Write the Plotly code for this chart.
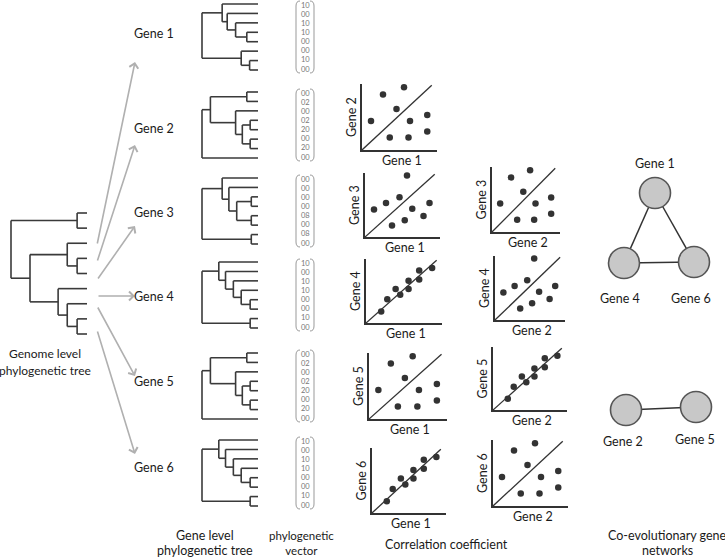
import plotly.graph_objects as go

# %%
genes = ['Gene 1', 'Gene 2', 'Gene 3', 'Gene 4', 'Gene 5', 'Gene 6']

# trees as nested lists: [node depth (0 = root, 1 = tips), child, child]; 0 = leaf
genome_tree = [0.0, [0.87, 0, 0],
               [0.25, [0.74, 0, [0.87, 0, 0]], [0.62, 0, [0.74, 0, [0.87, 0, 0]]]]]
tree_g1 = [0.0, [0.36, 0, [0.45, 0, [0.6, 0, [0.8, 0, 0]]]], [0.7, 0, [0.85, 0, 0]]]
tree_g2 = [0.0, [0.15, [0.8, 0, 0], [0.6, 0, [0.72, [0.86, 0, 0], [0.86, 0, 0]]]], 0]
tree_g3 = [0.0, [0.36, 0, [0.48, 0, [0.62, [0.88, 0, 0], [0.88, 0, 0]]]], [0.88, 0, 0]]
tree_g4 = [0.0, [0.3, 0, [0.42, 0, [0.56, 0, [0.7, 0, [0.86, 0, 0]]]]], [0.86, 0, 0]]
gene_trees = [tree_g1, tree_g2, tree_g3, tree_g4, tree_g2, tree_g4]

# phylogenetic vectors
vec_10 = ['10', '00', '10', '10', '00', '00', '10', '00']
vec_02 = ['00', '02', '00', '02', '20', '00', '20', '00']
vec_08 = ['00', '00', '00', '00', '08', '00', '08', '00']
gene_vectors = [vec_10, vec_02, vec_08, vec_10, vec_02, vec_10]

# scatter patterns (fraction of the small plot)
scatter_a_x = [0.12, 0.28, 0.56, 0.46, 0.64, 0.87, 0.37, 0.62, 0.87]
scatter_a_y = [0.44, 0.84, 0.95, 0.62, 0.44, 0.53, 0.19, 0.19, 0.28]
scatter_b_x = [0.12, 0.28, 0.46, 0.56, 0.63, 0.86, 0.36, 0.53, 0.78]
scatter_b_y = [0.43, 0.53, 0.62, 0.96, 0.44, 0.53, 0.18, 0.26, 0.33]
scatter_c_x = [0.20, 0.28, 0.39, 0.45, 0.56, 0.56, 0.70, 0.70, 0.87]
scatter_c_y = [0.18, 0.37, 0.53, 0.44, 0.66, 0.53, 0.82, 0.68, 0.86]
diag_x = [0, 0.93]
diag_y = [0, 0.98]
patterns = {'a': (scatter_a_x, scatter_a_y),
            'b': (scatter_b_x, scatter_b_y),
            'c': (scatter_c_x, scatter_c_y)}

# (x gene, y gene, pattern)
scatter_pairs = [
    ('Gene 1', 'Gene 2', 'a'), ('Gene 1', 'Gene 3', 'b'), ('Gene 1', 'Gene 4', 'c'),
    ('Gene 1', 'Gene 5', 'a'), ('Gene 1', 'Gene 6', 'c'),
    ('Gene 2', 'Gene 3', 'a'), ('Gene 2', 'Gene 4', 'b'), ('Gene 2', 'Gene 5', 'c'),
    ('Gene 2', 'Gene 6', 'a'),
]

network_edges = [('Gene 1', 'Gene 4'), ('Gene 1', 'Gene 6'), ('Gene 4', 'Gene 6'),
                 ('Gene 2', 'Gene 5')]

# %%
W, H = 725, 560
FONT = 'Lato, "Open Sans", sans-serif'
DARK = '#333333'
TXT = '#1a1a1a'

row_y = [37, 125, 211, 295, 386, 473]
label_y = [33, 128, 212, 296, 381, 467]
arrow_from = [(97, 245), (97, 262), (97, 280), (97, 296), (97, 306), (97, 330)]
arrow_to = [(135, 62), (135, 145), (135, 226), (135, 296), (135, 376), (135, 454)]

# pixel boxes of the small scatter plots: x0, x1, y_top, y_bottom
boxes = [(362, 437, 84, 150), (365, 440, 173, 237), (366, 442, 259, 323),
         (369, 447, 353, 419), (372, 446, 448, 513),
         (492, 560, 167, 232), (495, 565, 256, 320), (493, 567, 347, 410),
         (493, 568, 440, 506)]

node_pos = {'Gene 1': (655, 193), 'Gene 4': (624, 263), 'Gene 6': (694, 262),
            'Gene 2': (626, 410), 'Gene 5': (696, 407)}
node_label = {'Gene 1': (655, 163), 'Gene 4': (620, 298), 'Gene 6': (691, 298),
              'Gene 2': (623, 441), 'Gene 5': (695, 439)}


def n_leaves(node):
    if not isinstance(node, list):
        return 1
    return sum(n_leaves(c) for c in node[1:])


def tree_lines(node, x0, x1, leaf_ys, xs, ys, parent=None):
    if not isinstance(node, list):
        y = leaf_ys.pop(0)
        xs += [parent, x1, None]
        ys += [y, y, None]
        return y
    nx = x0 + node[0] * (x1 - x0)
    cys = [tree_lines(c, x0, x1, leaf_ys, xs, ys, nx) for c in node[1:]]
    xs += [nx, nx, None]
    ys += [min(cys), max(cys), None]
    y = (min(cys) + max(cys)) / 2
    if parent is not None:
        xs += [parent, nx, None]
        ys += [y, y, None]
    return y


def spaced(a, b, n):
    return [a + (b - a) * i / (n - 1) for i in range(n)]


fig = go.Figure()

# genome tree
tx, ty = [], []
tree_lines(genome_tree, 11, 87, spaced(213, 334, n_leaves(genome_tree)), tx, ty)
# gene trees
for tree, cy in zip(gene_trees, row_y):
    tree_lines(tree, 202, 258, spaced(cy - 33, cy + 33, n_leaves(tree)), tx, ty)
fig.add_trace(go.Scatter(x=tx, y=ty, mode='lines',
                         line=dict(color='#3a3a3a', width=1.6),
                         hoverinfo='skip', showlegend=False))

annotations = []
shapes = []


def text(x, y, s, size=12.5, color=TXT, ref=('x', 'y'), angle=0):
    annotations.append(dict(x=x, y=y, text=s, xref=ref[0], yref=ref[1],
                            showarrow=False, textangle=angle,
                            font=dict(family=FONT, size=size, color=color)))


# arrows and gene labels
for g, (sx, sy), (ex, ey), ly in zip(genes, arrow_from, arrow_to, label_y):
    annotations.append(dict(x=ex, y=ey, ax=sx, ay=sy, xref='x', yref='y',
                            axref='x', ayref='y', text='', showarrow=True,
                            arrowhead=4, arrowsize=1.1, arrowwidth=1.6,
                            arrowcolor='#b0b0b0'))
    text(154, ly, g)

# vectors
for vec, cy in zip(gene_vectors, row_y):
    ys = spaced(cy - 32, cy + 32, len(vec))
    for v, yy in zip(vec, ys):
        text(305, yy, v, size=7.5, color='#777')
    y0, y1 = cy - 36, cy + 36
    shapes.append(dict(type='path', xref='x', yref='y',
                       path=f'M 300,{y0} Q 296,{y0} 296,{y0 + 5} L 296,{y1 - 5} '
                            f'Q 296,{y1} 300,{y1}',
                       line=dict(color='#999', width=1)))
    shapes.append(dict(type='path', xref='x', yref='y',
                       path=f'M 310,{y0} Q 314,{y0} 314,{y0 + 5} L 314,{y1 - 5} '
                            f'Q 314,{y1} 310,{y1}',
                       line=dict(color='#999', width=1)))

# small scatter plots
layout_axes = {}
for i, ((gx, gy, p), (x0, x1, yt, yb)) in enumerate(zip(scatter_pairs, boxes)):
    k = i + 2
    px, py = patterns[p]
    fig.add_trace(go.Scatter(x=diag_x, y=diag_y, mode='lines', xaxis=f'x{k}',
                             yaxis=f'y{k}', line=dict(color=DARK, width=1.3),
                             hoverinfo='skip', showlegend=False))
    fig.add_trace(go.Scatter(x=px, y=py, mode='markers', xaxis=f'x{k}',
                             yaxis=f'y{k}', cliponaxis=False,
                             marker=dict(color=DARK, size=6.5),
                             showlegend=False))
    ax = dict(range=[0, 1], showgrid=False, zeroline=False, showticklabels=False,
              ticks='', showline=True, linecolor=DARK, linewidth=1.6,
              fixedrange=True)
    layout_axes[f'xaxis{k}'] = dict(ax, domain=[x0 / W, x1 / W], anchor=f'y{k}')
    layout_axes[f'yaxis{k}'] = dict(ax, domain=[1 - yb / H, 1 - yt / H],
                                    anchor=f'x{k}')
    text((x0 + x1) / 2 + 2, yb + 10, gx, size=12.5)
    text(x0 - 11, (yt + yb) / 2, gy, size=12.5, angle=-90)

# network
ex_, ey_ = [], []
for a, b in network_edges:
    ex_ += [node_pos[a][0], node_pos[b][0], None]
    ey_ += [node_pos[a][1], node_pos[b][1], None]
fig.add_trace(go.Scatter(x=ex_, y=ey_, mode='lines', line=dict(color=DARK, width=1.5),
                         hoverinfo='skip', showlegend=False))
fig.add_trace(go.Scatter(x=[node_pos[n][0] for n in node_pos],
                         y=[node_pos[n][1] for n in node_pos],
                         mode='markers', text=list(node_pos), hoverinfo='text',
                         marker=dict(size=31, color='#c8c8c8',
                                     line=dict(color='#555', width=1.6)),
                         showlegend=False))
for n, (lx, ly) in node_label.items():
    text(lx, ly, n)

# captions
text(45, 353, 'Genome level', size=12)
text(45, 370, 'phylogenetic tree', size=12)
text(205, 535, 'Gene level', size=12.5)
text(205, 550, 'phylogenetic tree', size=12.5)
text(301, 543, 'phylogenetic<br>vector', size=11.5)
text(446, 544, 'Correlation coefficient', size=12.5)
text(667, 535, 'Co-evolutionary gene', size=12.5)
text(667, 550, 'networks', size=12.5)

fig.update_layout(
    width=W, height=H,
    margin=dict(l=0, r=0, t=0, b=0),
    paper_bgcolor='white', plot_bgcolor='rgba(0,0,0,0)',
    xaxis=dict(range=[0, W], domain=[0, 1], visible=False, fixedrange=True),
    yaxis=dict(range=[H, 0], domain=[0, 1], visible=False, fixedrange=True),
    annotations=annotations,
    shapes=shapes,
    **layout_axes,
)

# the page's default body margin would shift the fixed-size figure
fig.write_html("out.html", config={'displayModeBar': False},
               post_script="document.body.style.margin = '0';")
